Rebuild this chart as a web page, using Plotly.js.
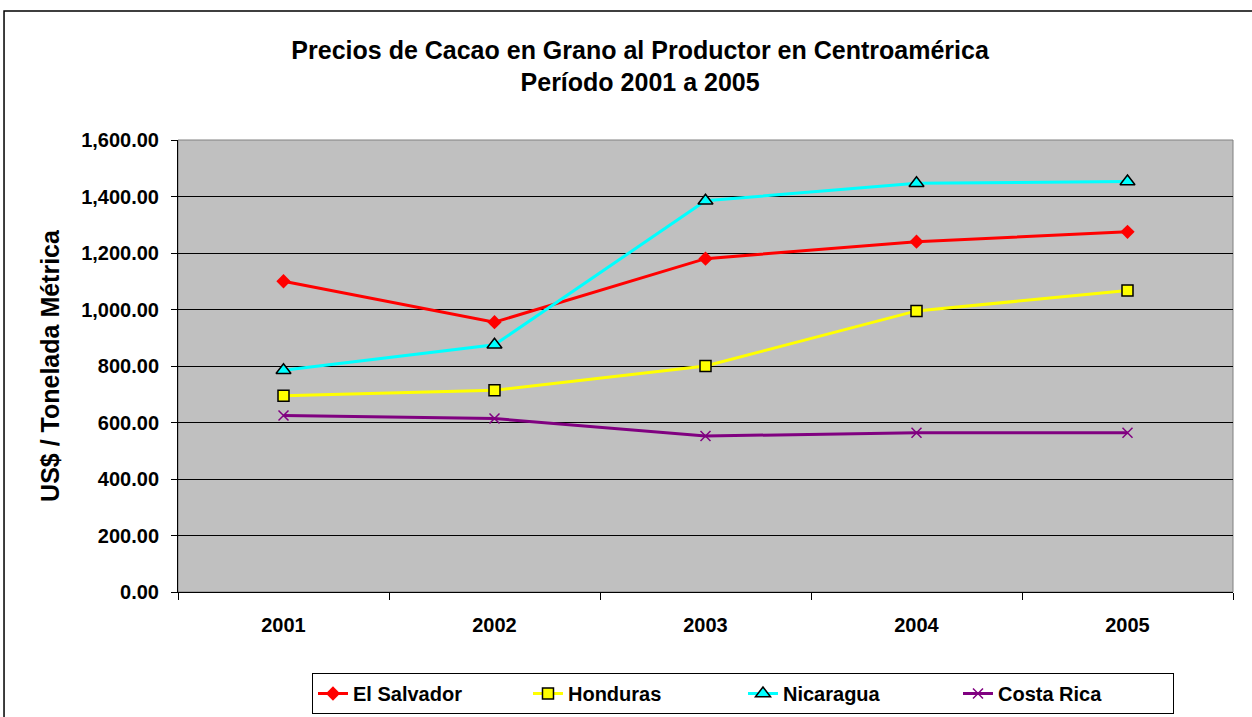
<!DOCTYPE html>
<html>
<head>
<meta charset="utf-8">
<script src="https://cdn.plot.ly/plotly-3.0.1.min.js"></script>
<style>html,body{margin:0;padding:0;background:#fff;} #chart{width:1252px;height:717px;}</style>
</head>
<body>
<div id="chart"></div>
<script>
const years = ['2001', '2002', '2003', '2004', '2005'];
const elSalvador = [1100, 955, 1180, 1240, 1275];
const honduras = [695, 714, 800, 995, 1067];
const nicaragua = [785, 875, 1385, 1447, 1453];
const costaRica = [625, 614, 552, 564, 564];
const yTicks = [0, 200, 400, 600, 800, 1000, 1200, 1400, 1600];

const font = 'Liberation Sans, Arial, sans-serif';

const traces = [
  {name: 'El Salvador', x: years, y: elSalvador, type: 'scatter', mode: 'lines+markers',
   line: {color: '#FF0000', width: 3},
   marker: {symbol: 'diamond', size: 11, color: '#FF0000', line: {width: 0}}},
  {name: 'Honduras', x: years, y: honduras, type: 'scatter', mode: 'lines+markers',
   line: {color: '#FFFF00', width: 3},
   marker: {symbol: 'square', size: 11, color: '#FFFF00', line: {color: '#000', width: 1.5}}},
  {name: 'Nicaragua', x: years, y: nicaragua, type: 'scatter', mode: 'lines+markers',
   line: {color: '#00FFFF', width: 3},
   marker: {symbol: 'triangle-up', size: 13, color: '#00FFFF', line: {color: '#000', width: 1.5}}},
  {name: 'Costa Rica', x: years, y: costaRica, type: 'scatter', mode: 'lines+markers',
   line: {color: '#800080', width: 3},
   marker: {symbol: 'x-thin', size: 10, color: '#800080', line: {color: '#800080', width: 1.5}}}
];

const layout = {
  width: 1252, height: 717,
  margin: {l: 178, r: 19, t: 140, b: 125, pad: 0},
  paper_bgcolor: '#FFFFFF',
  plot_bgcolor: '#C0C0C0',
  font: {family: font, color: '#000', size: 20},
  title: {
    text: '<b>Precios de Cacao en Grano al Productor en Centroamérica</b><br><b>Período 2001 a 2005</b>',
    font: {family: font, size: 25, color: '#000'},
    x: 0.438, xref: 'paper', xanchor: 'center',
    y: 0.918, yref: 'container', yanchor: 'middle'
  },
  xaxis: {
    type: 'category',
    categoryorder: 'array', categoryarray: years,
    range: [-0.5, 4.5],
    tickson: 'boundaries',
    ticks: 'outside', ticklen: 7, tickwidth: 1, tickcolor: '#000',
    showline: true, linecolor: '#000', linewidth: 1,
    showgrid: false, zeroline: false,
    tickfont: {family: font, size: 20, color: '#000', weight: 'bold'},
    ticklabelstandoff: 15,
    fixedrange: true
  },
  yaxis: {
    range: [0, 1600],
    tickvals: yTicks,
    tickformat: ',.2f',
    ticks: 'outside', ticklen: 6, tickwidth: 1, tickcolor: '#000',
    showline: true, linecolor: '#000', linewidth: 1,
    showgrid: true, gridcolor: '#000', gridwidth: 1,
    zeroline: false,
    tickfont: {family: font, size: 20, color: '#000', weight: 'bold'},
    ticklabelstandoff: 8,
    title: {text: '<b>US$ / Tonelada Métrica</b>', font: {family: font, size: 25, color: '#000'}, standoff: 14},
    fixedrange: true
  },
  legend: {
    orientation: 'h',
    x: 0.127, xanchor: 'left',
    yref: 'container',
    y: 0.0614, yanchor: 'top',
    bgcolor: '#FFFFFF',
    bordercolor: '#000', borderwidth: 1,
    font: {family: font, size: 20, color: '#000', weight: 'bold'},
    entrywidth: 170, entrywidthmode: 'pixels',
    itemwidth: 30,
    traceorder: 'normal'
  },
  shapes: [
    {type: 'rect', xref: 'paper', yref: 'paper', x0: -0.1649, x1: 1.05, y0: -0.3, y1: 1.2854,
     line: {color: '#000', width: 1.5}, fillcolor: 'rgba(0,0,0,0)', layer: 'below'},
    {type: 'rect', xref: 'paper', yref: 'paper', x0: 0, x1: 1, y0: 0, y1: 1,
     line: {color: '#808080', width: 1}, fillcolor: 'rgba(0,0,0,0)', layer: 'below'}
  ],
  showlegend: true
};

Plotly.newPlot('chart', traces, layout, {displayModeBar: false, staticPlot: true});
</script>
</body>
</html>
